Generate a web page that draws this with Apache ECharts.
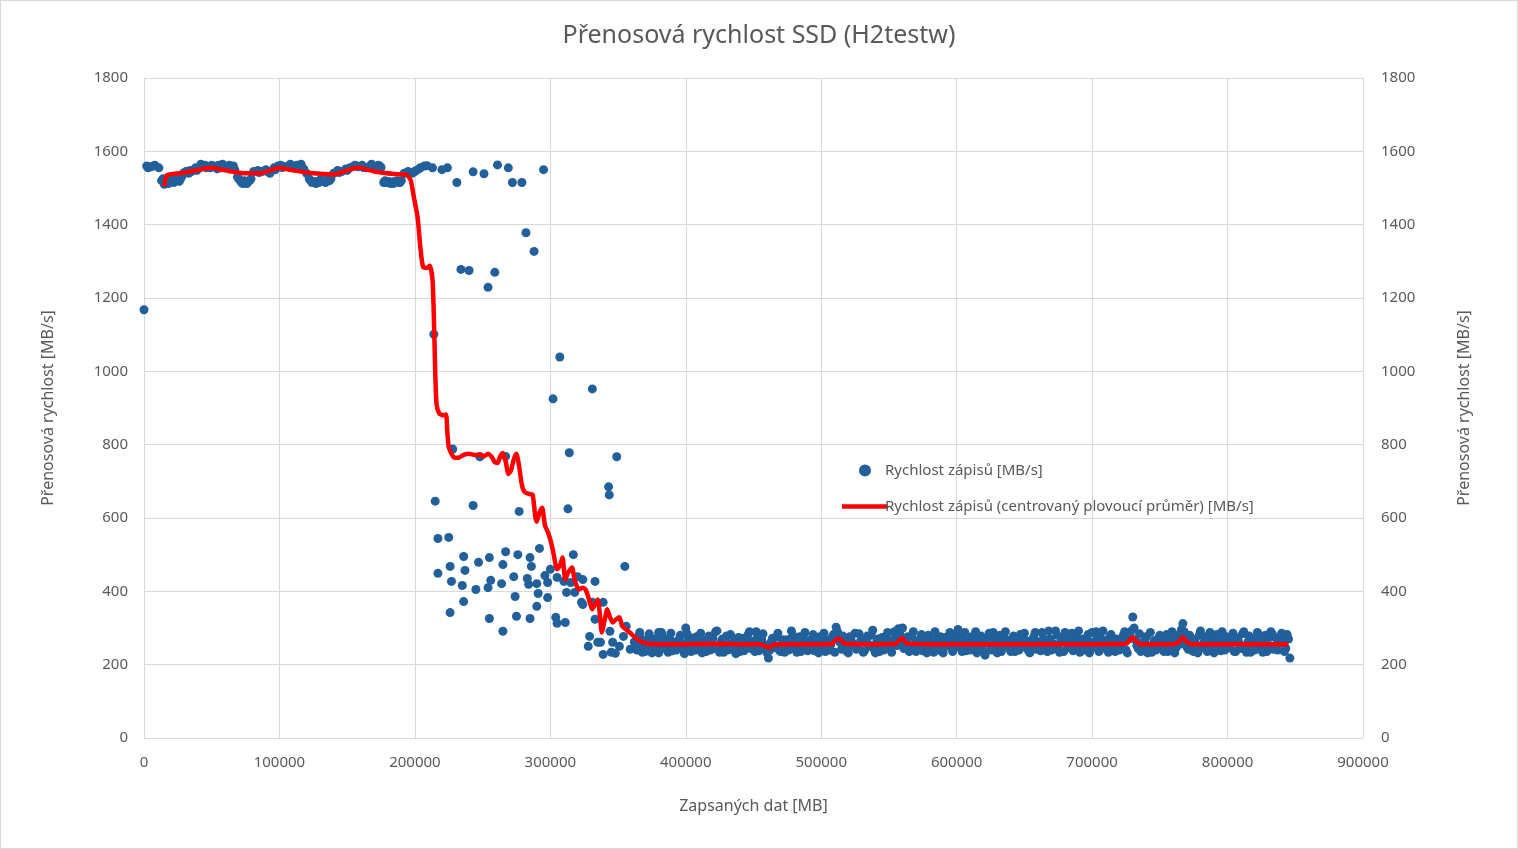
<!DOCTYPE html>
<html>
<head>
<meta charset="utf-8">
<script src="https://cdn.jsdelivr.net/npm/echarts@6/dist/echarts.min.js"></script>
<style>
	html, body { margin: 0; padding: 0; background: #fff; }
	#chart { width: 1516px; height: 847px; border: 1px solid #d9d9d9; }
</style>
</head>
<body>
<div id="chart"></div>
<script>
// rychlost zápisu - začátek (SLC cache)
var bodyZacatek = [
	[0, 1168], [2000, 1560], [5000, 1558], [8000, 1562], [11000, 1555],
	[13000, 1520], [15000, 1510], [17000, 1515], [19000, 1518], [21000, 1522], [23000, 1520],
	[25000, 1530], [27000, 1525], [29000, 1540], [31000, 1545], [33000, 1540], [35000, 1545],
	[37000, 1550], [39000, 1548], [41000, 1555], [43000, 1560], [45000, 1562], [47000, 1558],
	[49000, 1555], [51000, 1560], [53000, 1558], [55000, 1562], [57000, 1555], [59000, 1560],
	[61000, 1558], [63000, 1562], [65000, 1555], [67000, 1550], [69000, 1530], [71000, 1520],
	[73000, 1512], [75000, 1515], [77000, 1518], [79000, 1525], [81000, 1545], [84000, 1548],
	[87000, 1545], [90000, 1550], [93000, 1540], [96000, 1555], [99000, 1560], [101000, 1562],
	[104000, 1558], [107000, 1560], [110000, 1556], [113000, 1562], [116000, 1565], [120000, 1540],
	[122000, 1525], [124000, 1515], [126000, 1518], [129000, 1515], [132000, 1520], [134000, 1515],
	[136000, 1530], [138000, 1525], [140000, 1540], [143000, 1548], [146000, 1545], [149000, 1552],
	[152000, 1555], [155000, 1560], [158000, 1558], [161000, 1562], [164000, 1555], [167000, 1560],
	[170000, 1558], [173000, 1562], [175000, 1556], [177000, 1515], [179000, 1515], [182000, 1512],
	[185000, 1518], [188000, 1515], [190000, 1520], [192000, 1540], [195000, 1545], [198000, 1540],
	[201000, 1548], [204000, 1555], [207000, 1560], [209000, 1561], [213000, 1555], [220000, 1550],
	[224000, 1555], [231000, 1515], [243000, 1544], [251000, 1539], [261000, 1563], [269000, 1555],
	[272000, 1515], [279000, 1515], [295000, 1550],
	[3000, 1555], [7000, 1560], [14000, 1525], [16000, 1520], [18000, 1512], [20000, 1525],
	[22000, 1515], [24000, 1522], [26000, 1518], [28000, 1532], [34000, 1548], [38000, 1555],
	[42000, 1565], [46000, 1555], [50000, 1562], [54000, 1552], [58000, 1565], [62000, 1555],
	[66000, 1560], [70000, 1525], [72000, 1515], [74000, 1520], [76000, 1512], [78000, 1520],
	[85000, 1542], [91000, 1545], [97000, 1550], [102000, 1556], [108000, 1565], [112000, 1560],
	[118000, 1552], [123000, 1520], [127000, 1512], [130000, 1522], [133000, 1518], [137000, 1520],
	[144000, 1542], [150000, 1548], [156000, 1562], [162000, 1556], [168000, 1565], [174000, 1560],
	[178000, 1520], [181000, 1518], [184000, 1512], [187000, 1520], [189000, 1515], [194000, 1540],
	[200000, 1545], [203000, 1552]
];

// rychlost zápisu - pokles
var bodyPokles = [
	[282000, 1378], [288000, 1327], [234000, 1278], [240000, 1275], [259000, 1270], [254000, 1229],
	[214000, 1101], [307000, 1039], [302000, 925], [331000, 952], [314000, 778], [349000, 767],
	[343000, 685], [343500, 663], [228000, 788], [248000, 767], [267000, 768], [215000, 646],
	[243000, 634], [277000, 618], [313000, 625], [217000, 544], [225000, 547], [236000, 495],
	[247000, 479], [255000, 492], [267000, 508], [276000, 500], [285000, 492], [292000, 517],
	[317000, 500], [226000, 468], [237000, 457], [265000, 473], [286000, 468], [217000, 449],
	[227000, 427], [256000, 430], [273000, 440], [283000, 435], [235000, 416], [245000, 405],
	[254000, 410], [264000, 421], [284000, 419], [290000, 421], [296000, 443], [298000, 424],
	[274000, 386], [291000, 394], [236000, 372], [298000, 383], [290000, 359], [226000, 342],
	[255000, 326], [275000, 332], [285000, 326], [265000, 291], [304000, 329], [305000, 313],
	[311000, 315], [300000, 460], [305000, 438], [310000, 427], [315000, 424], [320000, 440],
	[324000, 432], [333000, 427], [312000, 397], [318000, 397], [323000, 370], [331000, 370],
	[339000, 370], [324000, 364], [333000, 324], [329000, 277], [328000, 250], [335000, 261],
	[339000, 228], [346000, 261], [345000, 234], [344000, 291], [351000, 250], [356000, 305],
	[359000, 242], [354000, 277], [355000, 468], [337000, 261], [348000, 231], [366000, 283],
	[368000, 234], [374000, 242], [380000, 288], [381000, 242], [388000, 261], [396000, 277]
];

// rychlost zápisu - ustálený stav
var bodyUstaleno = [
	[362000, 262], [364000, 240], [366000, 288], [368000, 250], [370000, 236], [372000, 270],
	[374000, 255], [376000, 244], [378000, 262], [380000, 232], [382000, 288], [384000, 258],
	[386000, 246], [388000, 270], [390000, 238], [392000, 262], [394000, 252], [396000, 280],
	[398000, 242], [400000, 300], [402000, 268], [404000, 236], [406000, 258], [408000, 276],
	[410000, 248], [412000, 232], [414000, 266], [416000, 254], [418000, 240], [420000, 272],
	[422000, 290], [424000, 246], [426000, 262], [428000, 234], [430000, 278], [432000, 256],
	[434000, 242], [436000, 268], [438000, 250], [440000, 236], [442000, 272], [444000, 258],
	[446000, 282], [448000, 244], [450000, 264], [452000, 290], [454000, 238], [456000, 270],
	[458000, 254], [460000, 232], [461000, 218], [463000, 262], [465000, 246], [467000, 276],
	[469000, 240], [471000, 258], [473000, 234], [475000, 268], [477000, 250], [479000, 280],
	[481000, 242], [483000, 262], [485000, 236], [487000, 272], [489000, 254], [491000, 244],
	[493000, 270], [495000, 238], [497000, 260], [499000, 276], [501000, 248], [503000, 236],
	[505000, 266], [507000, 254], [509000, 282], [511000, 302], [513000, 268], [515000, 242],
	[517000, 262], [519000, 236], [521000, 276], [523000, 252], [525000, 286], [527000, 244],
	[529000, 264], [531000, 234], [533000, 270], [535000, 256], [537000, 280], [539000, 242],
	[541000, 262], [543000, 236], [545000, 274], [547000, 252], [549000, 288], [551000, 246],
	[553000, 266], [555000, 280], [557000, 298], [559000, 270], [561000, 244], [563000, 262],
	[565000, 236], [567000, 276], [569000, 254], [571000, 244], [573000, 270], [575000, 238],
	[577000, 262], [579000, 280], [581000, 248], [583000, 234], [585000, 268], [587000, 256],
	[589000, 242], [591000, 274], [593000, 250], [595000, 288], [597000, 236], [599000, 262],
	[601000, 296], [603000, 248], [605000, 270], [607000, 238], [609000, 260], [611000, 276],
	[613000, 246], [615000, 232], [617000, 266], [619000, 254], [621000, 226], [623000, 272],
	[625000, 250], [627000, 288], [629000, 240], [631000, 262], [633000, 236], [635000, 274],
	[637000, 256], [639000, 244], [641000, 270], [643000, 236], [645000, 260], [647000, 282],
	[649000, 248], [651000, 266], [653000, 238], [655000, 254], [657000, 276], [659000, 242],
	[661000, 262], [663000, 288], [665000, 250], [667000, 236], [669000, 270], [671000, 254],
	[673000, 292], [675000, 244], [677000, 262], [679000, 236], [681000, 274], [683000, 250],
	[685000, 286], [687000, 244], [689000, 264], [691000, 234], [693000, 270], [695000, 254],
	[697000, 282], [699000, 242], [701000, 262], [703000, 290], [705000, 236], [707000, 270],
	[709000, 252], [711000, 240], [713000, 276], [715000, 258], [717000, 236], [719000, 266],
	[721000, 248], [723000, 280], [725000, 240], [727000, 270], [729000, 292], [730000, 330],
	[732000, 268], [734000, 244], [736000, 236], [738000, 262], [740000, 276], [742000, 248],
	[744000, 234], [746000, 266], [748000, 254], [750000, 280], [752000, 242], [754000, 262],
	[756000, 236], [758000, 272], [760000, 254], [762000, 246], [764000, 282], [766000, 296],
	[767000, 312], [769000, 268], [771000, 242], [773000, 262], [775000, 236], [777000, 254],
	[779000, 280], [781000, 246], [783000, 264], [785000, 236], [787000, 288], [789000, 254],
	[791000, 242], [793000, 270], [795000, 238], [797000, 260], [799000, 276], [801000, 246],
	[803000, 264], [805000, 236], [807000, 272], [809000, 254], [811000, 284], [813000, 244],
	[815000, 262], [817000, 234], [819000, 270], [821000, 256], [823000, 282], [825000, 242],
	[827000, 262], [829000, 236], [831000, 274], [833000, 284], [835000, 252], [837000, 240],
	[839000, 278], [841000, 262], [843000, 244], [845000, 270], [846000, 218]
];

// ustálený stav - mezilehlé body
var bodyUstaleno2 = [
	[363000, 252], [365000, 274], [367000, 238], [369000, 266], [371000, 248], [373000, 284],
	[375000, 232], [377000, 270], [379000, 256], [381000, 240], [383000, 276], [385000, 262],
	[387000, 234], [389000, 286], [391000, 250], [393000, 240], [395000, 268], [397000, 256],
	[399000, 230], [401000, 284], [403000, 252], [405000, 272], [407000, 240], [409000, 264],
	[411000, 286], [413000, 246], [415000, 236], [417000, 278], [419000, 260], [421000, 244],
	[423000, 292], [425000, 234], [427000, 270], [429000, 252], [431000, 240], [433000, 282],
	[435000, 262], [437000, 230], [439000, 274], [441000, 250], [443000, 238], [445000, 268],
	[447000, 290], [449000, 256], [451000, 236], [453000, 276], [455000, 250], [457000, 284],
	[459000, 242], [462000, 240], [464000, 272], [466000, 252], [468000, 286], [470000, 236],
	[472000, 268], [474000, 256], [476000, 240], [478000, 292], [480000, 262], [482000, 234],
	[484000, 276], [486000, 250], [488000, 288], [490000, 238], [492000, 264], [494000, 282],
	[496000, 248], [498000, 232], [500000, 272], [502000, 286], [504000, 256], [506000, 240],
	[508000, 274], [510000, 234], [512000, 290], [514000, 260], [516000, 278], [518000, 248],
	[520000, 232], [522000, 268], [524000, 256], [526000, 242], [528000, 284], [530000, 262],
	[532000, 238], [534000, 278], [536000, 250], [538000, 294], [540000, 232], [542000, 270],
	[544000, 256], [546000, 240], [548000, 276], [550000, 264], [552000, 234], [554000, 290],
	[556000, 252], [558000, 286], [560000, 300], [562000, 256], [564000, 276], [566000, 244],
	[568000, 290], [570000, 236], [572000, 262], [574000, 282], [576000, 250], [578000, 232],
	[580000, 272], [582000, 262], [584000, 290], [586000, 240], [588000, 276], [590000, 232],
	[592000, 266], [594000, 256], [596000, 272], [598000, 244], [600000, 282], [602000, 268],
	[604000, 236], [606000, 288], [608000, 252], [610000, 240], [612000, 272], [614000, 290],
	[616000, 244], [618000, 278], [620000, 236], [622000, 262], [624000, 286], [626000, 240],
	[628000, 270], [630000, 232], [632000, 280], [634000, 252], [636000, 290], [638000, 266],
	[640000, 236], [642000, 278], [644000, 250], [646000, 240], [648000, 270], [650000, 286],
	[652000, 256], [654000, 232], [656000, 268], [658000, 288], [660000, 250], [662000, 238],
	[664000, 272], [666000, 262], [668000, 292], [670000, 240], [672000, 256], [674000, 280],
	[676000, 234], [678000, 270], [680000, 288], [682000, 246], [684000, 262], [686000, 238],
	[688000, 276], [690000, 292], [692000, 254], [694000, 240], [696000, 270], [698000, 232],
	[700000, 288], [702000, 256], [704000, 276], [706000, 244], [708000, 292], [710000, 264],
	[712000, 234], [714000, 282], [716000, 250], [718000, 270], [720000, 240], [722000, 262],
	[724000, 290], [726000, 232], [728000, 278], [731000, 300], [733000, 252], [735000, 284],
	[737000, 240], [739000, 266], [741000, 232], [743000, 288], [745000, 256], [747000, 240],
	[749000, 272], [751000, 262], [753000, 236], [755000, 282], [757000, 250], [759000, 290],
	[761000, 232], [763000, 270], [765000, 256], [768000, 290], [770000, 248], [772000, 280],
	[774000, 238], [776000, 268], [778000, 232], [780000, 292], [782000, 256], [784000, 276],
	[786000, 240], [788000, 270], [790000, 232], [792000, 282], [794000, 260], [796000, 290],
	[798000, 240], [800000, 272], [802000, 256], [804000, 286], [806000, 236], [808000, 264],
	[810000, 244], [812000, 290], [814000, 234], [816000, 278], [818000, 256], [820000, 240],
	[822000, 288], [824000, 262], [826000, 234], [828000, 280], [830000, 250], [832000, 290],
	[834000, 242], [836000, 272], [838000, 258], [840000, 286], [842000, 236], [844000, 282]
];

// centrovaný plovoucí průměr
var prumer = [
	[15000, 1505], [17000, 1535], [30000, 1542], [45000, 1553], [50000, 1555], [60000, 1548],
	[75000, 1540], [85000, 1540], [100000, 1555], [110000, 1548], [125000, 1540], [140000, 1537],
	[150000, 1548], [158000, 1556], [170000, 1545], [185000, 1538], [194000, 1536], [197000, 1520],
	[199000, 1480], [202000, 1420], [204000, 1340], [206000, 1285], [209000, 1282], [211000, 1288],
	[213000, 1250], [214000, 1150], [215000, 1000], [216000, 910], [218000, 885], [221000, 880],
	[223000, 882], [224000, 830], [225000, 794], [227000, 775], [229000, 765], [232000, 764],
	[236000, 772], [240000, 775], [244000, 772], [248000, 773], [251000, 768], [254000, 775],
	[257000, 765], [259000, 752], [261000, 750], [263000, 768], [265000, 777], [267000, 755],
	[269000, 720], [271000, 730], [273000, 760], [275000, 775], [277000, 740], [279000, 690],
	[281000, 671], [285000, 665], [287000, 663], [289000, 600], [290000, 590], [292000, 615],
	[294000, 628], [296000, 580], [298000, 563], [300000, 541], [302000, 510], [305000, 460],
	[307000, 470], [309000, 492], [311000, 432], [313000, 450], [316000, 465], [318000, 430],
	[321000, 405], [324000, 410], [326000, 405], [328000, 385], [331000, 351], [333000, 365],
	[335000, 378], [337000, 320], [338000, 288], [340000, 320], [342000, 351], [344000, 330],
	[346000, 315], [348000, 322], [351000, 329], [353000, 305], [356000, 296], [360000, 283],
	[364000, 270], [368000, 261], [372000, 257], [380000, 256], [400000, 256], [420000, 257],
	[440000, 256], [455000, 256], [459000, 250], [462000, 246], [465000, 255], [480000, 256],
	[500000, 256], [508000, 257], [511000, 268], [514000, 270], [517000, 258], [540000, 256],
	[555000, 257], [558000, 268], [560000, 272], [563000, 258], [580000, 256], [600000, 256],
	[620000, 256], [650000, 256], [680000, 256], [700000, 256], [725000, 257], [728000, 268],
	[730000, 274], [733000, 262], [736000, 256], [760000, 256], [764000, 262], [767000, 274],
	[770000, 262], [773000, 256], [800000, 256], [820000, 256], [845000, 256]
];

var nazevBody = 'Rychlost zápisů [MB/s]';
var nazevPrumer = 'Rychlost zápisů (centrovaný plovoucí průměr) [MB/s]';

var font = 'Noto Sans';
var seda = '#595959';

var chart = echarts.init(document.getElementById('chart'));
chart.setOption({
	animation: false,
	textStyle: { fontFamily: font },
	title: {
		text: 'Přenosová rychlost SSD (H2testw)',
		left: 'center',
		top: 17,
		textStyle: { fontFamily: font, fontSize: 25, fontWeight: 'normal', color: seda }
	},
	legend: {
		orient: 'vertical',
		left: 836,
		top: 457,
		itemWidth: 46,
		itemHeight: 12,
		itemGap: 21,
		data: [
			{ name: nazevBody, icon: 'circle', itemStyle: { color: '#22609b' } },
			{ name: nazevPrumer, icon: 'path://M0,0 L46,0 L46,4.5 L0,4.5 Z', itemStyle: { color: '#ff0000' } }
		],
		textStyle: { fontFamily: font, fontSize: 15, color: seda, padding: [0, 0, 0, -8] }
	},
	grid: { left: 143, right: 154, top: 77, bottom: 110 },
	xAxis: {
		type: 'value',
		min: 0,
		max: 900000,
		interval: 100000,
		name: 'Zapsaných dat [MB]',
		nameLocation: 'middle',
		nameGap: 60,
		nameTextStyle: { fontFamily: font, fontSize: 16, color: seda },
		axisLine: { show: false },
		axisTick: { show: false },
		axisLabel: {
			color: seda, fontSize: 15, margin: 17,
			formatter: function(v) { return String(v); }
		},
		splitLine: { show: true, lineStyle: { color: '#d9d9d9', width: 1 } }
	},
	yAxis: [{
		type: 'value',
		min: 0,
		max: 1800,
		interval: 200,
		position: 'left',
		name: 'Přenosová rychlost [MB/s]',
		nameLocation: 'middle',
		nameGap: 88,
		nameTextStyle: { fontFamily: font, fontSize: 16, color: seda },
		axisLine: { show: false },
		axisTick: { show: false },
		axisLabel: {
			color: seda, fontSize: 15, margin: 16,
			formatter: function(v) { return String(v); }
		},
		splitLine: { show: true, lineStyle: { color: '#d9d9d9', width: 1 } }
	}, {
		type: 'value',
		min: 0,
		max: 1800,
		interval: 200,
		position: 'right',
		name: 'Přenosová rychlost [MB/s]',
		nameLocation: 'middle',
		nameGap: 93,
		nameRotate: 90,
		nameTextStyle: { fontFamily: font, fontSize: 16, color: seda },
		axisLine: { show: false },
		axisTick: { show: false },
		axisLabel: {
			color: seda, fontSize: 15, margin: 18,
			formatter: function(v) { return String(v); }
		},
		splitLine: { show: false }
	}],
	series: [{
		name: nazevBody,
		type: 'scatter',
		symbolSize: 9,
		itemStyle: { color: '#22609b', opacity: 1 },
		data: bodyZacatek.concat(bodyPokles, bodyUstaleno, bodyUstaleno2),
		z: 2
	}, {
		name: nazevPrumer,
		type: 'line',
		symbol: 'none',
		smooth: 0.2,
		lineStyle: { color: '#ff0000', width: 4.5 },
		itemStyle: { color: '#ff0000' },
		data: prumer,
		z: 3
	}]
});
</script>
</body>
</html>
